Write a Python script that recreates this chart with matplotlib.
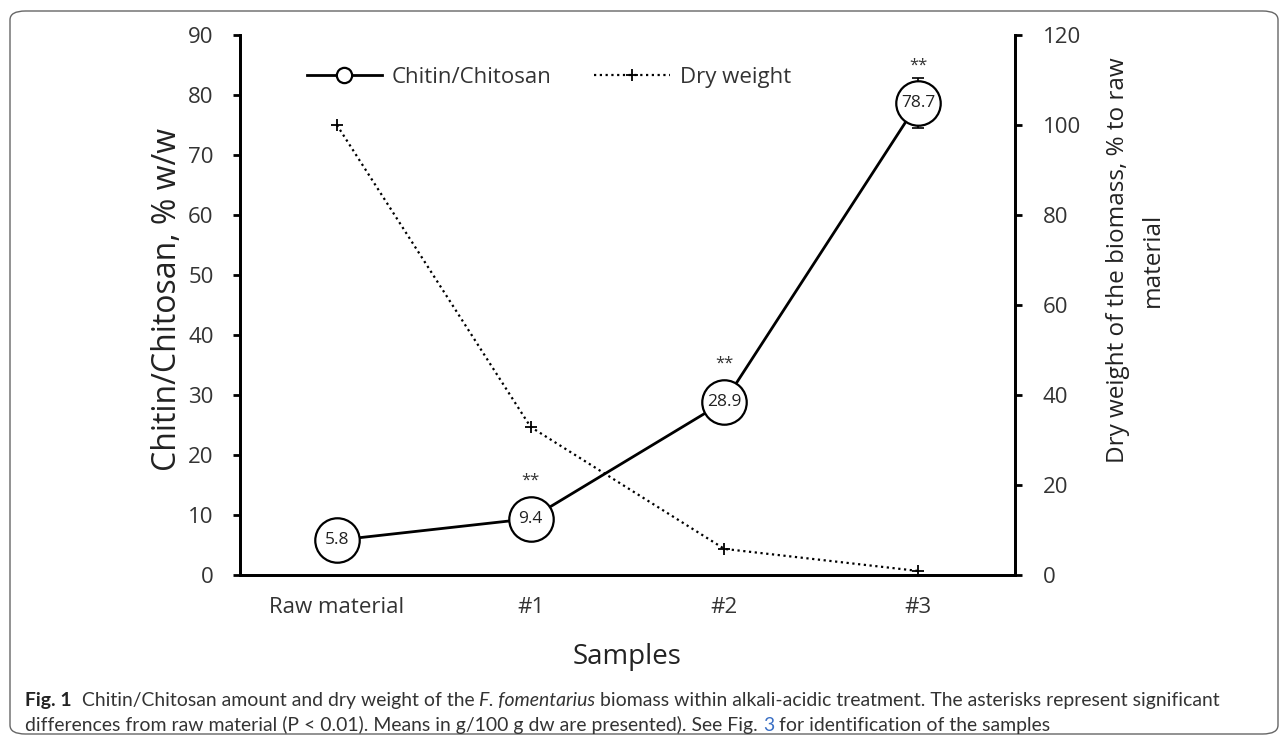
import matplotlib
matplotlib.use("Agg")
import matplotlib.pyplot as plt
from matplotlib.patches import FancyBboxPatch
from matplotlib.lines import Line2D

# Data.
samples = ["Raw material", "#1", "#2", "#3"]
chitin = [5.8, 9.4, 28.9, 78.7]
chitin_err = [0.0, 0.0, 0.0, 4.2]
dry_weight = [100.0, 32.9, 5.8, 0.9]
significant = [False, True, True, True]

chart_font = "Open Sans"
caption_font = "Lato"
text_color = "#333333"

fig = plt.figure(figsize=(12.84, 7.38), dpi=100)

# Rounded frame around the whole figure.
frame = FancyBboxPatch(
    (10 / 1284, 4 / 738), 1268 / 1284, 723 / 738,
    boxstyle="round,pad=0,rounding_size=0.012",
    transform=fig.transFigure, facecolor="none", edgecolor="#666666",
    linewidth=1.0, zorder=0,
)
fig.patches.append(frame)

ax1 = fig.add_axes([240 / 1284, 1 - 575 / 738, 775 / 1284, 540 / 738])
ax2 = ax1.twinx()
ax2.set_zorder(0)
ax1.set_zorder(1)
ax1.patch.set_visible(False)
ax2.patch.set_facecolor("#e4e4e4")

x = list(range(len(samples)))

# Dry weight (right axis).
dotted = (0, (1, 1.6))
ax2.plot(x, dry_weight, color="black", linestyle=dotted, linewidth=1.6,
         marker="+", markersize=9, markeredgewidth=1.3)

# Chitin/Chitosan (left axis) with error bars.
ax1.errorbar(x, chitin, yerr=chitin_err, color="black", capsize=4.5,
             elinewidth=1.2, capthick=1.2, zorder=3, fmt="none")
ax1.plot(x, chitin, color="black", linewidth=2.0, marker="o", markersize=32,
         markerfacecolor="white", markeredgecolor="black", markeredgewidth=1.6,
         zorder=4)
for xi, val, sig in zip(x, chitin, significant):
    ax1.annotate(f"{val}", (xi, val), ha="center", va="center", fontsize=12.5,
                 family=chart_font, color="#222222", zorder=5)
    if sig:
        ax1.annotate("**", (xi, val), xytext=(0, 27),
                     textcoords="offset points", ha="center", va="center",
                     fontsize=12, family=chart_font, color=text_color)

ax1.set_xlim(-0.5, 3.5)
ax1.set_ylim(0, 90)
ax2.set_ylim(0, 120)
ax1.set_yticks(range(0, 91, 10))
ax2.set_yticks(range(0, 121, 20))
ax1.set_xticks(x)
ax1.set_xticklabels(samples)

for ax in (ax1, ax2):
    ax.spines["top"].set_visible(False)
    for s in ("left", "right", "bottom"):
        ax.spines[s].set_linewidth(2.0)
    for lab in ax.get_yticklabels() + ax.get_xticklabels():
        lab.set_family(chart_font)
        lab.set_fontsize(16)
        lab.set_color(text_color)
ax1.tick_params(axis="y", direction="out", length=5, width=2.0, pad=14)
ax2.tick_params(axis="y", direction="out", length=5, width=2.0, pad=15)
ax1.tick_params(axis="x", length=0, pad=16)

ax1.set_ylabel("Chitin/Chitosan, % w/w", family=chart_font, fontsize=23,
               color="#222222", rotation=90, va="center", ha="center")
ax1.yaxis.set_label_coords(-0.094, 0.51)
ax2.set_ylabel("Dry weight of the biomass, % to raw\nmaterial",
               family=chart_font, fontsize=17.5, color="#222222",
               linespacing=1.6, rotation=90, va="center", ha="center")
ax2.yaxis.set_label_coords(1.156, 0.583)
ax1.set_xlabel("Samples", family=chart_font, fontsize=20, labelpad=18,
               color="#222222")

# Legend.
handles = [
    Line2D([], [], color="black", linewidth=2.0, marker="o", markersize=11,
           markerfacecolor="white", markeredgewidth=1.6),
    Line2D([], [], color="black", linestyle=dotted, linewidth=1.6,
           marker="+", markersize=9, markeredgewidth=1.3),
]
leg = ax1.legend(handles, ["Chitin/Chitosan", "Dry weight"], ncol=2,
                 frameon=False, loc="upper left",
                 bbox_to_anchor=(0.06, 0.978),
                 prop={"family": chart_font, "size": 16}, handlelength=3.4,
                 columnspacing=1.9, handletextpad=0.45)
for t in leg.get_texts():
    t.set_color(text_color)

# Caption built from pieces placed one after another.
fig.canvas.draw()
renderer = fig.canvas.get_renderer()

line1 = [
    ("Fig. 1", "bold", "normal", "#222222"),
    ("  Chitin/Chitosan amount and dry weight of the ", "normal", "normal", text_color),
    ("F. fomentarius", "normal", "italic", text_color),
    (" biomass within alkali-acidic treatment. The asterisks represent significant",
     "normal", "normal", text_color),
]
line2 = [
    ("differences from raw material (P < 0.01). Means in g/100 g dw are presented). See Fig. ",
     "normal", "normal", text_color),
    ("3", "normal", "normal", "#3a6fc4"),
    (" for identification of the samples", "normal", "normal", text_color),
]


def put_line(pieces, x0, y0, size):
    xpos = x0
    made = []
    for text, weight, style, color in pieces:
        t = fig.text(xpos, y0, text, fontsize=size, family=caption_font,
                     weight=weight, style=style, color=color, va="baseline",
                     ha="left")
        made.append(t)
        bb = t.get_window_extent(renderer=renderer)
        xpos = xpos + bb.width / fig.bbox.width
    return made, (xpos - x0) * fig.bbox.width


# Fit the first caption line to the width seen in the reference.
cap_x = 25 / 1284
trial, width = put_line(line1, cap_x, 1 - 706 / 738, 12)
for t in trial:
    t.remove()
cap_size = 12 * 1192 / width
put_line(line1, cap_x, 1 - 706 / 738, cap_size)
put_line(line2, cap_x, 1 - 731 / 738, cap_size)

fig.savefig("out.png", dpi=100)
